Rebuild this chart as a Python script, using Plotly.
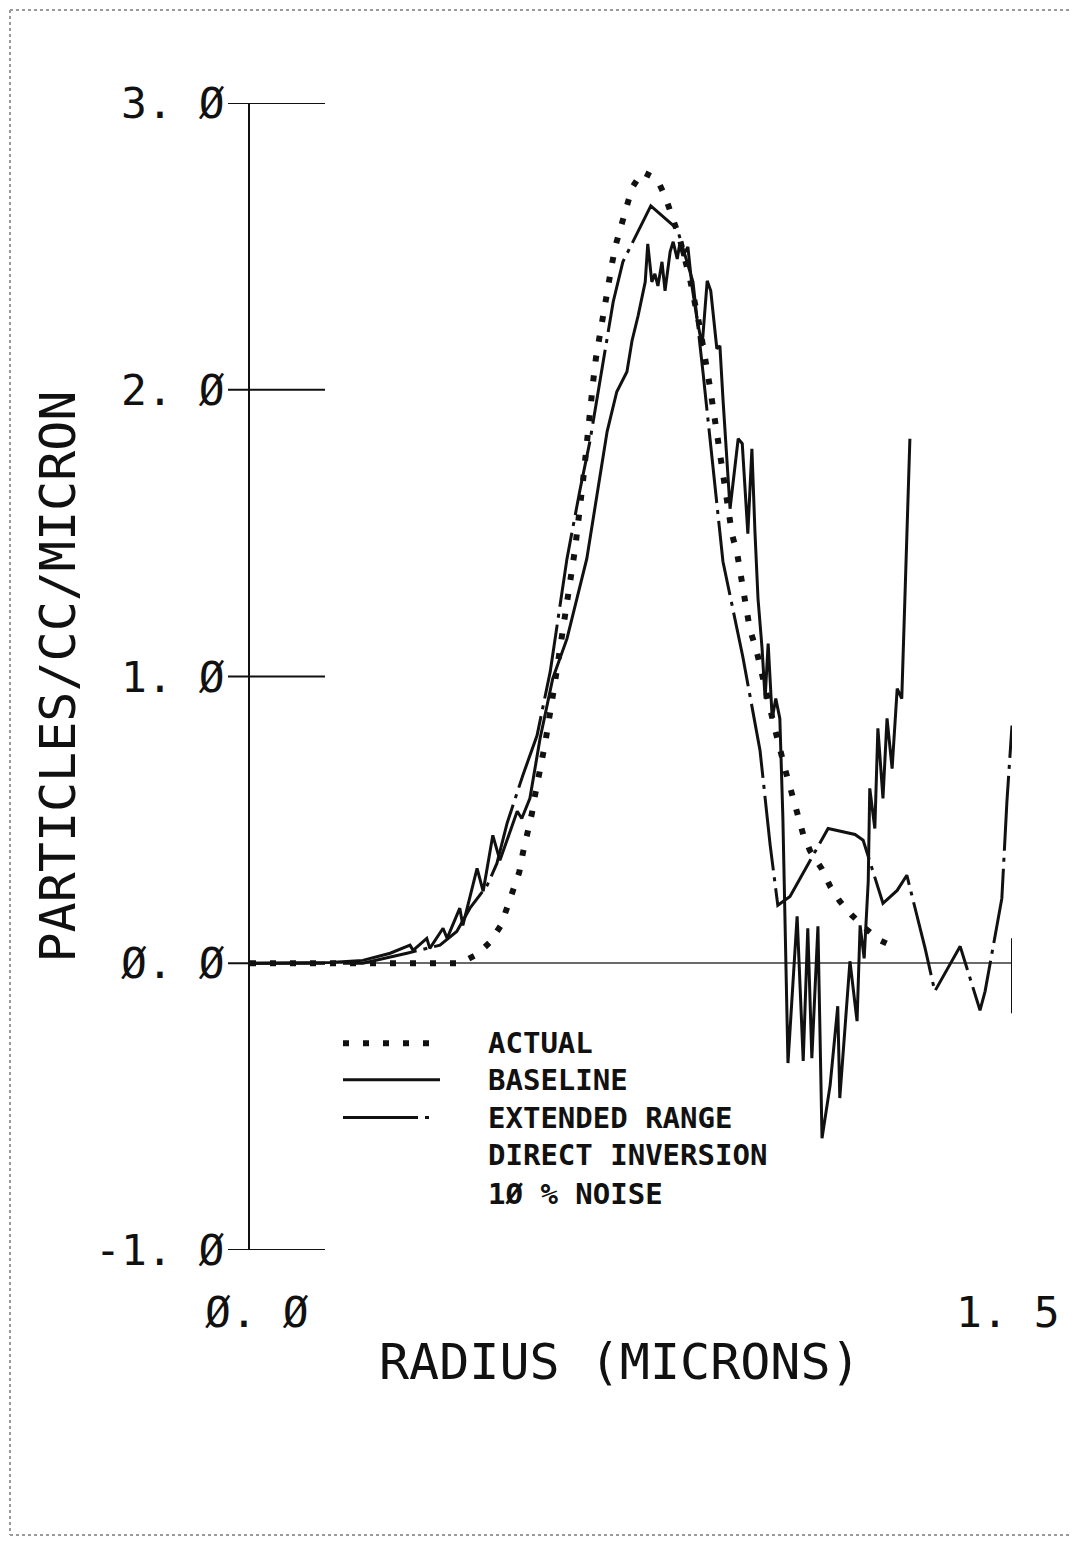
import plotly.graph_objects as go

# ---------------- data (radius in microns, particles/cc/micron) ----------------
actual_x = [0.000, 0.413, 0.447, 0.472, 0.494, 0.506, 0.518, 0.530, 0.537, 0.547, 0.555,
            0.561, 0.581, 0.600, 0.620, 0.640, 0.656, 0.665, 0.675, 0.681, 0.687, 0.693,
            0.699, 0.707, 0.713, 0.720, 0.730, 0.740, 0.752, 0.772, 0.801, 0.817, 0.829,
            0.846, 0.866, 0.886, 0.906, 0.925, 0.949, 0.959, 0.965, 0.970, 0.978, 0.984,
            0.996, 1.014, 1.033, 1.053, 1.069, 1.079, 1.089, 1.102, 1.126, 1.142, 1.161,
            1.185, 1.211, 1.240, 1.274]
actual_y = [0.000, 0.000, 0.031, 0.073, 0.132, 0.195, 0.254, 0.317, 0.383, 0.453, 0.523,
            0.585, 0.767, 0.976, 1.202, 1.446, 1.690, 1.864, 2.021, 2.111, 2.178, 2.244,
            2.310, 2.376, 2.443, 2.505, 2.571, 2.641, 2.704, 2.760, 2.735, 2.676, 2.617,
            2.526, 2.387, 2.213, 2.003, 1.777, 1.495, 1.429, 1.359, 1.293, 1.226, 1.164,
            1.098, 0.958, 0.819, 0.679, 0.575, 0.509, 0.449, 0.394, 0.328, 0.268, 0.216,
            0.167, 0.122, 0.080, 0.052]

baseline_x = [0.000, 0.157, 0.222, 0.276, 0.315, 0.321, 0.348, 0.354, 0.380, 0.388, 0.413,
              0.419, 0.447, 0.459, 0.478, 0.492, 0.526, 0.535, 0.551, 0.571, 0.596, 0.624,
              0.663, 0.689, 0.703, 0.722, 0.742, 0.752, 0.764, 0.778, 0.783, 0.791, 0.797,
              0.803, 0.811, 0.817, 0.827, 0.833, 0.841, 0.846, 0.852, 0.862, 0.870, 0.880,
              0.890, 0.900, 0.907, 0.919, 0.925, 0.931, 0.941, 0.945, 0.961, 0.969, 0.980,
              0.988, 0.994, 1.000, 1.008, 1.014, 1.020, 1.028, 1.035, 1.043, 1.049, 1.059,
              1.077, 1.089, 1.098, 1.106, 1.118, 1.126, 1.142, 1.157, 1.161, 1.181, 1.195,
              1.201, 1.209, 1.217, 1.220, 1.230, 1.236, 1.246, 1.254, 1.264, 1.274, 1.283,
              1.299]
baseline_y = [0.000, 0.003, 0.010, 0.035, 0.063, 0.045, 0.087, 0.052, 0.122, 0.087, 0.192,
              0.132, 0.331, 0.251, 0.446, 0.359, 0.530, 0.505, 0.575, 0.784, 0.993, 1.132,
              1.411, 1.690, 1.854, 1.993, 2.063, 2.171, 2.258, 2.376, 2.509, 2.376, 2.404,
              2.362, 2.446, 2.345, 2.481, 2.516, 2.456, 2.509, 2.467, 2.498, 2.362, 2.247,
              2.153, 2.380, 2.345, 2.143, 2.153, 1.969, 1.700, 1.585, 1.829, 1.812, 1.498,
              1.794, 1.505, 1.272, 1.098, 0.923, 1.115, 0.854, 0.923, 0.854, 0.505, -0.348,
              0.164, -0.341, 0.122, -0.331, 0.129, -0.610, -0.425, -0.150, -0.470, 0.007, -0.202,
              0.132, 0.017, 0.286, 0.610, 0.470, 0.819, 0.575, 0.854, 0.679, 0.958, 0.923,
              1.829]

extended_x = [0.000, 0.222, 0.309, 0.374, 0.407, 0.433, 0.467, 0.486, 0.506, 0.537, 0.565,
              0.591, 0.624, 0.650, 0.669, 0.685, 0.703, 0.715, 0.734, 0.774, 0.789, 0.841,
              0.862, 0.872, 0.892, 0.911, 0.931, 0.970, 1.004, 1.024, 1.039, 1.063, 1.112,
              1.138, 1.191, 1.207, 1.246, 1.274, 1.293, 1.329, 1.348, 1.398, 1.437, 1.447,
              1.480, 1.490, 1.500]
extended_y = [0.000, 0.000, 0.035, 0.063, 0.111, 0.192, 0.272, 0.348, 0.488, 0.655, 0.794,
              1.017, 1.411, 1.655, 1.819, 1.986, 2.178, 2.307, 2.446, 2.589, 2.641, 2.561,
              2.439, 2.376, 2.056, 1.732, 1.401, 1.070, 0.742, 0.411, 0.202, 0.233, 0.390,
              0.470, 0.449, 0.429, 0.209, 0.254, 0.307, 0.052, -0.098, 0.059, -0.164, -0.098,
              0.226, 0.564, 0.829]

y_ticks = [3.0, 2.0, 1.0, 0.0, -1.0]
y_tick_labels = ["3. Ø", "2. Ø", "1. Ø", "Ø. Ø", "-1. Ø"]
x_end_labels = ["Ø. Ø", "1. 5"]
x_end_values = [0.0, 1.5]
legend_names = ["ACTUAL", "BASELINE", "EXTENDED RANGE"]
legend_notes = ["DIRECT INVERSION", "1Ø % NOISE"]

# ---------------- styles ----------------
INK = "#111111"
FONT = "DejaVu Sans Mono"
DOT = "6px,14px"
DASHDOT = "75px,7px,4px,7px"
OFF = 8                      # default page margin around the figure
W, H = 1078 - OFF, 1541 - OFF
X0, X1 = 250, 1012           # page pixel positions of x = 0 and x = 1.5
Y0, Y1 = 103, 1250           # page pixel positions of y = 3 and y = -1


def px_x(p):  # page pixel -> paper x
    return (p - X0) / (X1 - X0)


def px_y(p):  # page pixel -> paper y
    return (Y1 - p) / (Y1 - Y0)


fig = go.Figure()
fig.add_trace(go.Scatter(x=actual_x, y=actual_y, mode="lines", name=legend_names[0],
                         line=dict(color=INK, width=6, dash=DOT)))
fig.add_trace(go.Scatter(x=baseline_x, y=baseline_y, mode="lines", name=legend_names[1],
                         line=dict(color=INK, width=3)))
fig.add_trace(go.Scatter(x=extended_x, y=extended_y, mode="lines", name=legend_names[2],
                         line=dict(color=INK, width=3, dash=DASHDOT)))

shapes = []
annotations = []

# y tick lines crossing the axis + labels
for v, lab in zip(y_ticks, y_tick_labels):
    shapes.append(dict(type="line", xref="paper", yref="y", x0=px_x(228), x1=px_x(325),
                       y0=v, y1=v, line=dict(color=INK, width=2)))
    annotations.append(dict(text=lab, xref="paper", yref="y", x=px_x(227), y=v,
                            xanchor="right", yanchor="middle", showarrow=False,
                            font=dict(family=FONT, size=43, color=INK)))

# x end labels
x_label_px = [257, 1008]
for px, lab in zip(x_label_px, x_end_labels):
    annotations.append(dict(text=lab, xref="paper", yref="paper", x=px_x(px),
                            y=px_y(1312), xanchor="center", yanchor="middle", showarrow=False,
                            font=dict(family=FONT, size=43, color=INK)))

# end tick at x = 1.5
shapes.append(dict(type="line", xref="x", yref="y", x0=1.5, x1=1.5, y0=0.087, y1=-0.174,
                   line=dict(color=INK, width=2)))

# axis titles
annotations.append(dict(text="PARTICLES/CC/MICRON", xref="paper", yref="y", x=px_x(57), y=1.0,
                        textangle=-90, xanchor="center", yanchor="middle", showarrow=False,
                        font=dict(family=FONT, size=50, color=INK)))
annotations.append(dict(text="RADIUS (MICRONS)", xref="paper", yref="paper", x=px_x(620),
                        y=px_y(1362), xanchor="center", yanchor="middle", showarrow=False,
                        font=dict(family=FONT, size=50, color=INK)))

# legend
leg_rows = [-0.279, -0.406, -0.538, -0.670, -0.803]
leg_dash = [DOT, "solid", DASHDOT]
leg_width = [6, 3, 3]
leg_end = [px_x(430), px_x(440), px_x(432)]
for i in range(3):
    shapes.append(dict(type="line", xref="paper", yref="y", x0=px_x(343), x1=leg_end[i],
                       y0=leg_rows[i], y1=leg_rows[i],
                       line=dict(color=INK, width=leg_width[i], dash=leg_dash[i])))
for i, txt in enumerate(legend_names + legend_notes):
    annotations.append(dict(text="<b>" + txt + "</b>", xref="paper", yref="y", x=px_x(486),
                            y=leg_rows[i], xanchor="left", yanchor="middle", showarrow=False,
                            font=dict(family=FONT, size=29, color=INK)))

# scanned page border
BORDER = dict(color="#9a9a9a", width=2, dash="dot")
shapes.append(dict(type="line", xref="paper", yref="paper", x0=px_x(10), x1=px_x(10),
                   y0=px_y(10), y1=px_y(1535), line=BORDER))
shapes.append(dict(type="line", xref="paper", yref="paper", x0=px_x(10), x1=px_x(1075),
                   y0=px_y(10), y1=px_y(10), line=BORDER))
shapes.append(dict(type="line", xref="paper", yref="paper", x0=px_x(10), x1=px_x(1075),
                   y0=px_y(1535), y1=px_y(1535), line=BORDER))

fig.update_layout(
    width=W, height=H, autosize=False,
    margin=dict(l=X0 - OFF, r=W - (X1 - OFF), t=Y0 - OFF, b=H - (Y1 - OFF), pad=0),
    paper_bgcolor="white", plot_bgcolor="white",
    showlegend=False,
    shapes=shapes, annotations=annotations,
    xaxis=dict(range=[0, 1.5], showgrid=False, zeroline=False, showline=False,
               showticklabels=False, ticks=""),
    yaxis=dict(range=[-1, 3], showgrid=False, zeroline=True, zerolinecolor="#6a6a6a",
               zerolinewidth=1.5, showline=True, linecolor=INK, linewidth=2,
               showticklabels=False, ticks=""),
)

fig.write_html("out.html", config={"displayModeBar": False})
